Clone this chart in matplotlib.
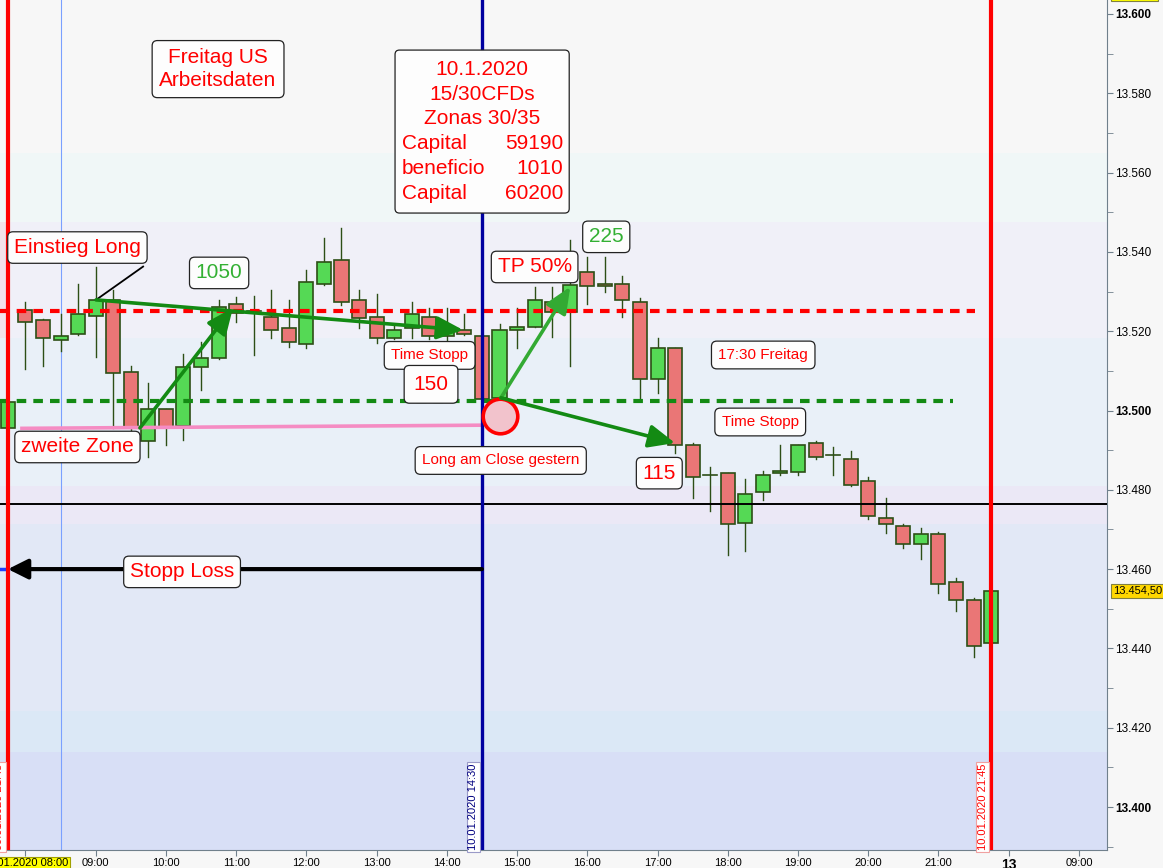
import matplotlib
matplotlib.use("Agg")
import matplotlib.pyplot as plt
import matplotlib.transforms as mtransforms
from matplotlib.patches import Rectangle, FancyBboxPatch

plt.rcParams['font.family'] = ['Liberation Sans', 'DejaVu Sans']

# 15 min candles; index 0 = 10.01.2020 08:00, index -1 = 09.01.2020 21:45
first_index = -1
opens = [13.4955, 13.5253, 13.5228, 13.5178, 13.5192, 13.5238, 13.5278, 13.5098, 13.4923, 13.5003,
         13.4962, 13.5110, 13.5132, 13.5268, 13.5250, 13.5237, 13.5207, 13.5167, 13.5318, 13.5379,
         13.5278, 13.5237, 13.5182, 13.5207, 13.5237, 13.5187, 13.5202, 13.5187, 13.5032, 13.5202,
         13.5211, 13.5273, 13.5248, 13.5349, 13.5318, 13.5318, 13.5273, 13.5079, 13.5157, 13.4913,
         13.4837, 13.4842, 13.4717, 13.4794, 13.4842, 13.4846, 13.4917, 13.4887, 13.4877, 13.4821,
         13.4728, 13.4708, 13.4663, 13.4688, 13.4567, 13.4521, 13.4413]
highs = [13.5025, 13.5274, 13.5230, 13.5243, 13.5319, 13.5363, 13.5304, 13.5113, 13.5069, 13.5005,
         13.5142, 13.5172, 13.5279, 13.5287, 13.5289, 13.5304, 13.5279, 13.5354, 13.5434, 13.5460,
         13.5304, 13.5294, 13.5215, 13.5274, 13.5258, 13.5258, 13.5243, 13.5190, 13.5218, 13.5258,
         13.5312, 13.5312, 13.5430, 13.5388, 13.5388, 13.5339, 13.5283, 13.5182, 13.5158, 13.4917,
         13.4858, 13.4843, 13.4827, 13.4847, 13.4913, 13.4914, 13.4923, 13.4907, 13.4898, 13.4832,
         13.4779, 13.4713, 13.4703, 13.4693, 13.4577, 13.4526, 13.4545]
lows = [13.4950, 13.5104, 13.5113, 13.5151, 13.5190, 13.5136, 13.4956, 13.4926, 13.4883, 13.4912,
        13.4926, 13.5052, 13.5130, 13.5224, 13.5140, 13.5182, 13.5161, 13.5157, 13.5317, 13.5266,
        13.5207, 13.5169, 13.5180, 13.5182, 13.5180, 13.5177, 13.5190, 13.5025, 13.4976, 13.5157,
        13.5210, 13.5186, 13.5113, 13.5268, 13.5298, 13.5237, 13.5026, 13.5043, 13.4892, 13.4779,
        13.4747, 13.4636, 13.4646, 13.4774, 13.4837, 13.4837, 13.4877, 13.4837, 13.4810, 13.4727,
        13.4692, 13.4652, 13.4626, 13.4540, 13.4495, 13.4378, 13.4412]
closes = [13.5022, 13.5222, 13.5182, 13.5187, 13.5243, 13.5278, 13.5094, 13.4955, 13.5003, 13.4959,
          13.5109, 13.5132, 13.5262, 13.5247, 13.5250, 13.5202, 13.5172, 13.5323, 13.5374, 13.5273,
          13.5233, 13.5182, 13.5202, 13.5243, 13.5187, 13.5203, 13.5192, 13.5029, 13.5202, 13.5211,
          13.5278, 13.5248, 13.5317, 13.5314, 13.5314, 13.5278, 13.5079, 13.5157, 13.4913, 13.4832,
          13.4837, 13.4713, 13.4789, 13.4837, 13.4847, 13.4913, 13.4882, 13.4887, 13.4811, 13.4733,
          13.4713, 13.4663, 13.4688, 13.4562, 13.4521, 13.4407, 13.4545]
last_price_label = "13.454,50"

x_tick_hours = [9, 10, 11, 12, 13, 14, 15, 16, 17, 18, 19, 20, 21, 22, 23]
x_tick_labels = ["09:00", "10:00", "11:00", "12:00", "13:00", "14:00", "15:00", "16:00",
                 "17:00", "18:00", "19:00", "20:00", "21:00", "13", "09:00"]
y_ticks = [13.400, 13.420, 13.440, 13.460, 13.480, 13.500, 13.520, 13.540, 13.560, 13.580, 13.600]
y_bold = [13.400, 13.500, 13.600]

# levels
entry_level = 13.5251      # red dashed
zone_level = 13.5024       # green dashed
black_level = 13.4764
stop_level = 13.4600
pink_start, pink_end = 13.4955, 13.4963

# background bands (price from, price to, colour)
band_edges = [13.3890, 13.4139, 13.4242, 13.4714, 13.4810, 13.5183, 13.5475, 13.5649, 13.6040]
band_colors = ['#d8dff6', '#dbe8f6', '#e2e8f6', '#ebe8f6', '#e9f0f8', '#f0f0f8', '#f0f7f7', '#f7f7f7']

fig = plt.figure(figsize=(11.63, 8.68), dpi=100, facecolor='#f7f7f7')
ax = fig.add_axes([0, 18 / 868, 1107 / 1163, 850 / 868])
ax.set_facecolor('#f7f7f7')
ax.set_xlim(-1.45, 61.6)
ax.set_ylim(13.38916, 13.60353)

for lo, hi, col in zip(band_edges[:-1], band_edges[1:], band_colors):
    ax.axhspan(lo, hi, color=col, lw=0, zorder=0)
ax.add_patch(Rectangle((-1.45, 13.5183), 0.45, 0.0292, color='#f2e2ea', lw=0, zorder=0.5))

# candles
edge = '#2d4f16'
for k in range(len(opens)):
    i = first_index + k
    o, h, l, c = opens[k], highs[k], lows[k], closes[k]
    ax.plot([i, i], [l, h], color=edge, lw=1, zorder=2)
    if abs(c - o) < 0.00003:
        ax.plot([i - 0.4, i + 0.4], [o, o], color=edge, lw=1.2, zorder=3)
        continue
    fc = '#55d955' if c > o else '#ea7676'
    ax.add_patch(Rectangle((i - 0.4, min(o, c)), 0.8, abs(c - o), facecolor=fc,
                           edgecolor=edge, lw=1.2, zorder=3))

# horizontal lines
ax.plot([-1.45, 54.1], [entry_level] * 2, color='#ff0000', lw=3, ls=(0, (2.3, 1.7)), zorder=4)
ax.plot([-1.45, 52.85], [zone_level] * 2, color='#138a13', lw=3, ls=(0, (2.3, 1.7)), zorder=4)
ax.axhline(black_level, color='black', lw=1.4, zorder=4)
ax.plot([-0.2, 26], [pink_start, pink_end], color='#f58cc3', lw=2.6, zorder=4)
ax.plot([-1.45, -1.0], [stop_level] * 2, color='#2040ff', lw=2.5, zorder=5)

# vertical lines
ax.axvline(-1, color='#ff0000', lw=3, zorder=6)
ax.axvline(2, color='#7aa0ff', lw=0.8, zorder=1)
ax.axvline(26, color='#0000a0', lw=2.4, zorder=6)
ax.axvline(55, color='#ff0000', lw=3, zorder=6)


def arrow(x0, y0, x1, y1, color, lw=2.6, head="-|>,head_length=0.8,head_width=0.35"):
    ax.annotate("", xy=(x1, y1), xytext=(x0, y0),
                arrowprops=dict(arrowstyle=head, color=color, lw=lw, shrinkA=0, shrinkB=0,
                                mutation_scale=20), zorder=7)


arrow(4.02, 13.5279, 24.93, 13.5203, '#138a13')
arrow(6.52, 13.4956, 11.82, 13.5259, '#138a13')
arrow(27.08, 13.5032, 31.03, 13.5312, '#33aa33')
arrow(27.08, 13.5032, 37.0, 13.4918, '#138a13')
arrow(26.0, stop_level, -1.0, stop_level, 'black', lw=3, head="-|>,head_length=0.6,head_width=0.3")
ax.plot([6.7, 4.02], [13.5363, 13.5279], color='black', lw=1.3, zorder=6)

ax.scatter([27.04], [13.4986], s=620, facecolor='#f2c3cc', edgecolor='#ff0000', lw=2.6, zorder=6)

# text boxes
big = dict(fontsize=15)
small = dict(fontsize=11)
box = dict(boxstyle="round,pad=0.3,rounding_size=0.25", facecolor='#fdfdfd', edgecolor='#222222', lw=0.9)
box_s = dict(boxstyle="round,pad=0.45,rounding_size=0.35", facecolor='#fdfdfd', edgecolor='#222222', lw=0.9)
notes = [
    ("Freitag US\nArbeitsdaten", 10.97, 13.5861, 'red', big, dict(box, boxstyle="round,pad=0.35,rounding_size=0.25")),
    ("Einstieg Long", 2.96, 13.5411, 'red', big, box),
    ("1050", 11.03, 13.5347, '#33b033', big, box),
    ("Time Stopp", 23.02, 13.5139, 'red', small, box_s),
    ("150", 23.1, 13.5066, 'red', big, dict(box, boxstyle="round,pad=0.45,rounding_size=0.25")),
    ("zweite Zone", 2.96, 13.4908, 'red', big, box),
    ("Long am Close gestern", 27.07, 13.4874, 'red', small, box_s),
    ("TP 50%", 29.0, 13.5362, 'red', big, box),
    ("225", 33.08, 13.5438, '#33b033', big, box),
    ("115", 36.1, 13.4842, 'red', big, box),
    ("17:30 Freitag", 42.02, 13.5140, 'red', small, box_s),
    ("Time Stopp", 41.85, 13.4971, 'red', small, box_s),
    ("Stopp Loss", 8.92, 13.4593, 'red', big, box),
]
for txt, x, y, col, fs, bb in notes:
    ax.text(x, y, txt, color=col, ha='center', va='center', linespacing=1.3, bbox=bb, zorder=8, **fs)

# big info box
ax.add_patch(FancyBboxPatch((21.05, 13.5498), 9.92, 0.0411,
                            boxstyle="round,pad=0,rounding_size=0.25",
                            mutation_aspect=0.004426, facecolor='#fdfdfd',
                            edgecolor='#222222', lw=0.9, zorder=8))
info_center = ["10.1.2020", "15/30CFDs", "Zonas 30/35"]
info_rows = [("Capital", "59190"), ("beneficio", "1010"), ("Capital", "60200")]
top_line, step = 13.58605, 0.00626
for k, t in enumerate(info_center):
    ax.text(26.0, top_line - k * step, t, color='red', ha='center', va='center', zorder=9, **big)
for k, (a, b) in enumerate(info_rows):
    y = top_line - (k + 3) * step
    ax.text(21.45, y, a, color='red', ha='left', va='center', zorder=9, **big)
    ax.text(30.63, y, b, color='red', ha='right', va='center', zorder=9, **big)

# vertical date labels
trans = mtransforms.blended_transform_factory(ax.transData, ax.transAxes)
vlabels = [("09.01.2020 21:45", -1, '#ff0000', '#f0a0a0'),
           ("10.01.2020 14:30", 26, '#000080', '#9a9ac8'),
           ("10.01.2020 21:45", 55, '#ff0000', '#f0a0a0')]
for txt, x, col, ec in vlabels:
    ax.text(x - 0.2, 0.0, txt, transform=trans, rotation=90, ha='right', va='bottom',
            color=col, fontsize=8, zorder=9,
            bbox=dict(boxstyle="square,pad=0.15", facecolor='white', edgecolor=ec, lw=0.8))

# axes styling
for s in ['left', 'top']:
    ax.spines[s].set_visible(False)
for s in ['right', 'bottom']:
    ax.spines[s].set_color('#70808c')
ax.yaxis.tick_right()
ax.set_yticks(y_ticks)
ax.set_yticks([v + 0.01 for v in y_ticks[:-1]] + [13.39], minor=True)
ax.set_yticklabels([f"{v:.3f}" for v in y_ticks])
for lab, v in zip(ax.get_yticklabels(), y_ticks):
    if round(v, 3) in y_bold:
        lab.set_fontweight('bold')
        lab.set_fontsize(9)
ax.tick_params(axis='y', which='both', colors='#70808c', labelcolor='black', labelsize=8.5, length=4, pad=2)

xt = [0] + [4 * (h - 8) for h in x_tick_hours]
ax.set_xticks(xt)
ax.set_xticklabels(["10.01.2020 08:00"] + x_tick_labels)
ax.tick_params(axis='x', colors='#70808c', labelcolor='black', labelsize=8, length=4, pad=2)
xl = ax.get_xticklabels()
xl[0].set_bbox(dict(boxstyle="square,pad=0.15", facecolor='#ffff00', edgecolor='#a0a000', lw=0.8))
xl[14].set_fontweight('bold')
xl[14].set_fontsize(10)

ty = mtransforms.blended_transform_factory(ax.transAxes, ax.transData)
ax.text(1 + 6 / 1107, closes[-1], last_price_label, transform=ty, ha='left', va='center',
        fontsize=8, clip_on=False,
        bbox=dict(boxstyle="square,pad=0.15", facecolor='#ffd700', edgecolor='#808040', lw=0.8))
ax.text(1 + 6 / 1107, 13.6050, "13.605,0", transform=ty, ha='left', va='center',
        fontsize=8, clip_on=False,
        bbox=dict(boxstyle="square,pad=0.15", facecolor='#ffff00', edgecolor='#808040', lw=0.8))

fig.savefig("out.png", dpi=100, facecolor=fig.get_facecolor())
